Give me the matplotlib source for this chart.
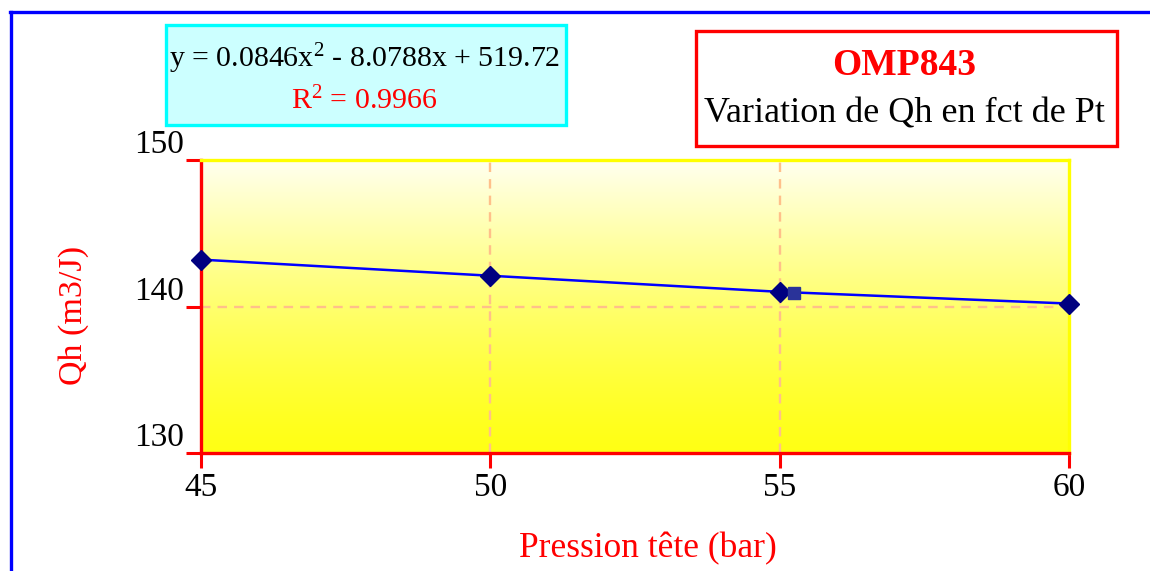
import numpy as np
import matplotlib
matplotlib.use("Agg")
import matplotlib.pyplot as plt
from matplotlib.patches import Rectangle
from matplotlib.lines import Line2D

# Measured head flow vs. head pressure
pressure = [45, 50, 55, 60]
flow = [143.2, 142.1, 141.0, 140.2]
extra_point_x = [55.25]
extra_point_y = [140.9]

x_ticks = [45, 50, 55, 60]
y_ticks = [130, 140, 150]

equation_text = r"y = 0.0846x$^{2}$ - 8.0788x + 519.72"
r2_text = r"R$^{2}$ = 0.9966"
title_main = "OMP843"
title_sub = "Variation de Qh en fct de Pt"
x_label = "Pression tête (bar)"
y_label = "Qh (m3/J)"

plt.rcParams["font.family"] = ["Liberation Serif", "DejaVu Serif"]
plt.rcParams["mathtext.fontset"] = "custom"
plt.rcParams["mathtext.rm"] = "Liberation Serif"
plt.rcParams["mathtext.it"] = "Liberation Serif"

W, H = 1150, 571
fig = plt.figure(figsize=(W / 100, H / 100), dpi=100)
fig.patch.set_facecolor("white")


def fx(px):
    return px / W


def fy(py):
    return 1 - py / H


ax = fig.add_axes([fx(201), fy(453), (1069 - 201) / W, (453 - 160) / H])
ax.set_xlim(45, 60)
ax.set_ylim(130, 150)

# vertical yellow gradient background
t = np.linspace(0, 1, 256)[:, None]
blue = 0.08 + 0.86 * t ** 1.3
grad = np.dstack([np.ones_like(t), np.ones_like(t), blue])
ax.imshow(grad, extent=[45, 60, 130, 150], origin="lower", aspect="auto", zorder=0)

ax.set_xticks(x_ticks)
ax.set_yticks(y_ticks)
ax.set_xticklabels([str(v) for v in x_ticks], fontsize=24)
ax.set_yticklabels([str(v) for v in y_ticks], fontsize=24)
for lbl in ax.get_yticklabels():
    lbl.set_verticalalignment("bottom")
ax.tick_params(axis="both", direction="out", color="red", width=2.2, length=11)
ax.tick_params(axis="y", pad=1)
ax.tick_params(axis="x", pad=3)

# dashed grid on the interior ticks only
grid_style = dict(color="#ffc08a", linestyle=(0, (4, 3)), linewidth=1.7, zorder=1)
for xv in x_ticks[1:-1]:
    ax.axvline(xv, **grid_style)
for yv in y_ticks[1:-1]:
    ax.axhline(yv, **grid_style)

for side in ("left", "bottom"):
    ax.spines[side].set_color("red")
    ax.spines[side].set_linewidth(2.4)
for side in ("top", "right"):
    ax.spines[side].set_color("#ffff00")
    ax.spines[side].set_linewidth(2.4)

ax.plot(pressure, flow, color="#0000ff", lw=1.8, zorder=4, clip_on=False)
ax.plot(pressure, flow, linestyle="none", marker="D", markersize=10.5,
        color="#000080", zorder=5, clip_on=False)
ax.plot(extra_point_x, extra_point_y, linestyle="none", marker="s", markersize=9,
        color="#2a3399", zorder=5, clip_on=False)

fig.text(fx(648), fy(557), x_label, color="red", fontsize=25.5,
         ha="center", va="baseline")
fig.text(fx(74), fy(315), y_label, color="red", fontsize=24.5,
         ha="center", va="center", rotation=90)

# outer frame (left and top edges)
fig.add_artist(Line2D([fx(11), fx(11)], [0, fy(12)], color="#0000ff", lw=2.4))
fig.add_artist(Line2D([fx(10), 1], [fy(12), fy(12)], color="#0000ff", lw=2.4))

# regression equation box
fig.add_artist(Rectangle((fx(166), fy(125)), (566 - 166) / W, (125 - 25) / H,
                         facecolor="#ccffff", edgecolor="#00ffff", lw=2.4))
fig.text(fx(364), fy(67), equation_text, fontsize=21.5, color="black",
         ha="center", va="baseline")
fig.text(fx(364), fy(109), r2_text, fontsize=21.5, color="red",
         ha="center", va="baseline")

# title box
fig.add_artist(Rectangle((fx(696), fy(146)), (1117 - 696) / W, (146 - 31) / H,
                         facecolor="white", edgecolor="red", lw=2.4))
fig.text(fx(904), fy(75), title_main, fontsize=27, color="red", weight="bold",
         ha="center", va="baseline")
fig.text(fx(905), fy(122), title_sub, fontsize=26, color="black",
         ha="center", va="baseline")

fig.savefig("out.png", dpi=100)
